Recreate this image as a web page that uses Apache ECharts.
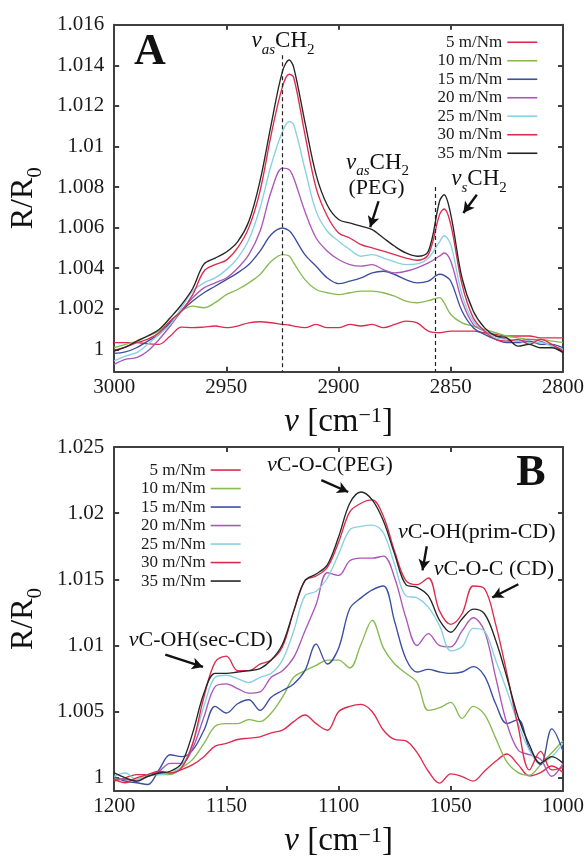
<!DOCTYPE html>
<html>
<head>
<meta charset="utf-8">
<script src="https://cdn.jsdelivr.net/npm/echarts@6/dist/echarts.min.js"></script>
<style>
html,body{margin:0;padding:0;background:#ffffff;}
#chart{width:588px;height:859px;}
</style>
</head>
<body>
<div id="chart"></div>
<script>
// ---------------- DATA ----------------
const seriesNames = ['5 m/Nm', '10 m/Nm', '15 m/Nm', '20 m/Nm', '25 m/Nm', '30 m/Nm', '35 m/Nm'];

// Panel A: CH2 stretching region (wavenumber, cm^-1)
const wavenumberA = [3000, 2995, 2990, 2985, 2980, 2975, 2970, 2965, 2960, 2955, 2950, 2945, 2940,
  2935, 2930, 2925, 2922, 2920, 2915, 2910, 2905, 2900,
  2895, 2890, 2885, 2880, 2875, 2870, 2865, 2860, 2855, 2853, 2850,
  2845, 2840, 2835, 2830, 2825, 2820, 2815, 2810, 2805, 2800];

const a5 = [1.00033, 1.00033, 1.00033, 1.00028, 1.00025, 1.00066, 1.0011, 1.00107, 1.0011, 1.00115, 1.00107, 1.00115, 1.00131,
  1.00136, 1.00131, 1.00123, 1.0012, 1.00115, 1.00107, 1.00123, 1.00107, 1.00107,
  1.00123, 1.00115, 1.00123, 1.00107, 1.00123, 1.00139, 1.00131, 1.0009, 1.00082, 1.00085, 1.0009,
  1.0009, 1.0009, 1.00082, 1.00074, 1.00066, 1.00066, 1.00066, 1.00057, 1.00057, 1.00057];
const a10 = [1.00008, 1.00025, 1.00041, 1.00066, 1.0009, 1.00139, 1.00189, 1.00213, 1.00205, 1.0023, 1.0027, 1.00295, 1.00328,
  1.00369, 1.00434, 1.00467, 1.0046, 1.00426, 1.00344, 1.00295, 1.00279, 1.0027,
  1.00279, 1.00287, 1.00287, 1.00279, 1.00262, 1.00238, 1.0023, 1.0024, 1.00255, 1.0023, 1.00172,
  1.00131, 1.00115, 1.00098, 1.00082, 1.00066, 1.00057, 1.00049, 1.00049, 1.00041, 1.00033];
const a15 = [0.9998, 0.99988, 1.00008, 1.00041, 1.00074, 1.00131, 1.00189, 1.00238, 1.00279, 1.00311, 1.00344, 1.00377, 1.00418,
  1.00484, 1.00566, 1.00598, 1.00585, 1.00557, 1.00467, 1.0041, 1.00352, 1.00324,
  1.00336, 1.00352, 1.00377, 1.00385, 1.00369, 1.00344, 1.00328, 1.00336, 1.0037, 1.00365, 1.00336,
  1.00189, 1.00107, 1.00074, 1.00049, 1.00033, 1.00033, 1.00041, 1.00025, 1.00025, 1.00008];
const a20 = [0.99926, 0.99951, 0.99959, 0.99992, 1.00049, 1.00115, 1.00189, 1.00254, 1.00303, 1.00328, 1.00352, 1.004, 1.00467,
  1.00582, 1.00779, 1.00893, 1.00885, 1.00844, 1.0068, 1.00549, 1.00484, 1.00443,
  1.00418, 1.0041, 1.00418, 1.00393, 1.00377, 1.00385, 1.00402, 1.00426, 1.0046, 1.00475, 1.00434,
  1.00238, 1.00123, 1.0009, 1.00066, 1.00049, 1.00041, 1.00049, 1.00041, 1.00016, 1.0];
const a25 = [0.99943, 0.99967, 0.99984, 1.00025, 1.00074, 1.00123, 1.00205, 1.00287, 1.00328, 1.00352, 1.00393, 1.0045, 1.0054,
  1.00697, 1.0091, 1.01074, 1.01123, 1.01107, 1.0089, 1.0068, 1.00582, 1.00533,
  1.00492, 1.00459, 1.00467, 1.0045, 1.00431, 1.00418, 1.00421, 1.0045, 1.0053, 1.0056, 1.00516,
  1.0027, 1.00139, 1.0009, 1.00057, 1.00049, 1.00041, 1.00033, 1.00033, 1.00016, 1.0];
const a30 = [0.99995, 1.00011, 1.00033, 1.0005, 1.00082, 1.0014, 1.0019, 1.0027, 1.00385, 1.00418, 1.0044, 1.005, 1.006,
  1.0078, 1.0106, 1.01295, 1.01356, 1.0134, 1.0106, 1.00795, 1.00656, 1.00574,
  1.00549, 1.00516, 1.005, 1.00484, 1.00467, 1.0045, 1.00439, 1.00467, 1.00664, 1.00692, 1.00615,
  1.0032, 1.00156, 1.0009, 1.00049, 1.00041, 1.00049, 1.00025, 1.00049, 1.00025, 0.99992];
const a35 = [0.99992, 1.00011, 1.0004, 1.00066, 1.00098, 1.00156, 1.0022, 1.003, 1.0042, 1.0045, 1.0048, 1.0053, 1.0063,
  1.0083, 1.0111, 1.0137, 1.01426, 1.0139, 1.0112, 1.0086, 1.0071, 1.0064,
  1.00623, 1.00607, 1.0059, 1.00549, 1.00508, 1.00475, 1.00459, 1.00484, 1.0073, 1.00762, 1.00664,
  1.00352, 1.00189, 1.00107, 1.00066, 1.00057, 1.00016, 1.00025, 1.00008, 1.00008, 0.99984];

// Panel B: C-O / C-OH stretching region
const wavenumberB = [1200, 1195, 1190, 1185, 1180, 1175, 1170, 1165, 1160, 1155,
  1150, 1145, 1140, 1135, 1130, 1125, 1120, 1115, 1110, 1105,
  1100, 1095, 1090, 1085, 1080, 1075, 1070, 1065, 1060, 1055,
  1050, 1045, 1040, 1035, 1030, 1025, 1020, 1015, 1010, 1005, 1000];

const b5 = [0.99975, 1.0, 1.00025, 1.00025, 1.00037, 1.00037, 1.00062, 1.001, 1.0016, 1.0024,
  1.0026, 1.0029, 1.003, 1.0031, 1.0034, 1.0036, 1.00425, 1.00475, 1.0041, 1.0036,
  1.005, 1.0054, 1.00555, 1.005, 1.0036, 1.0029, 1.0028, 1.0019, 1.0005, 0.9996,
  1.0003, 1.0001, 0.99975, 1.0005, 1.00125, 1.0018, 1.001, 1.00015, 1.0004, 1.0009, 1.0004];
const b10 = [1.0, 0.99988, 0.99988, 1.00012, 1.00025, 1.00025, 1.00075, 1.0014, 1.0026, 1.0039,
  1.0041, 1.0041, 1.0044, 1.00425, 1.0049, 1.0061, 1.0076, 1.0081, 1.0085, 1.0089,
  1.0089, 1.0083, 1.0101, 1.0119, 1.0098, 1.0086, 1.0079, 1.0072, 1.0051, 1.0053,
  1.0057, 1.0045, 1.0054, 1.0048, 1.003, 1.0012, 1.0004, 1.0002, 1.001, 1.0019, 1.0028];
const b15 = [1.00012, 0.99975, 0.99963, 0.9995, 1.00062, 1.00175, 1.0016, 1.0021, 1.0036, 1.0054,
  1.0049, 1.0056, 1.0059, 1.0051, 1.0061, 1.0066, 1.0071, 1.0081, 1.0101, 1.0086,
  1.0098, 1.0128, 1.0136, 1.0142, 1.0145, 1.0118, 1.009, 1.008, 1.0082, 1.008,
  1.0079, 1.008, 1.0084, 1.0077, 1.0056, 1.0041, 1.0044, 1.0022, 1.001, 1.0037, 1.002];
const b20 = [0.99988, 0.99988, 0.99975, 1.00012, 1.0005, 1.0011, 1.0011, 1.00225, 1.0046, 1.0069,
  1.0071, 1.00675, 1.0064, 1.0065, 1.0076, 1.0081, 1.0091, 1.0111, 1.0131, 1.0155,
  1.0153, 1.0164, 1.0166, 1.0166, 1.01675, 1.0151, 1.0121, 1.01, 1.0109, 1.01,
  1.0099, 1.0111, 1.0121, 1.0111, 1.0076, 1.0041, 1.0021, 1.00175, 1.0014, 1.00012, 1.0011];
const b25 = [1.00012, 1.00037, 0.99988, 1.00025, 1.00025, 1.00037, 1.00087, 1.0026, 1.0054, 1.0076,
  1.00775, 1.0075, 1.0072, 1.0076, 1.0079, 1.0089, 1.0111, 1.01375, 1.0141, 1.0151,
  1.0169, 1.01875, 1.019, 1.0191, 1.0185, 1.0161, 1.01375, 1.0136, 1.0129, 1.0115,
  1.0096, 1.0099, 1.0113, 1.0111, 1.0089, 1.0066, 1.0041, 1.0021, 1.0011, 1.0016, 1.0026];
const b30 = [0.99988, 0.99963, 1.0, 1.00025, 1.0005, 1.00037, 1.00075, 1.0026, 1.0061, 1.00875,
  1.0092, 1.0081, 1.0081, 1.0086, 1.0089, 1.0099, 1.0126, 1.0149, 1.01525, 1.0159,
  1.0178, 1.0201, 1.02075, 1.021, 1.01975, 1.0171, 1.0149, 1.0146, 1.0151, 1.0126,
  1.0116, 1.0124, 1.0145, 1.0143, 1.0116, 1.0079, 1.0039, 1.0006, 1.002, 1.0006, 1.0008];
const b35 = [1.00037, 1.0, 0.99975, 1.00012, 1.00037, 1.0005, 1.0011, 1.0034, 1.0064, 1.0079,
  1.0079, 1.008, 1.0081, 1.00825, 1.0089, 1.0101, 1.0126, 1.0149, 1.0154, 1.0161,
  1.0182, 1.02075, 1.0216, 1.021, 1.0194, 1.0169, 1.0146, 1.0144, 1.01375, 1.0119,
  1.011, 1.012, 1.01275, 1.0124, 1.0104, 1.0076, 1.0046, 1.0025, 1.0011, 1.0016, 1.0011];

// Axis tick values
const xTickStep = 50;
const yTicksA = [1, 1.002, 1.004, 1.006, 1.008, 1.01, 1.012, 1.014, 1.016];
const yTicksB = [1, 1.005, 1.01, 1.015, 1.02, 1.025];

// Annotation geometry (data coordinates)
const dashedLinesA = [[2925.2, 1.0145], [2856.9, 1.008]];
const arrowsA = [[[2882.2, 1.0073], [2885.9, 1.00602]], [[2838.4, 1.00762], [2844.4, 1.00672]]];
const arrowsB = [[[1177.2, 1.00932], [1160.4, 1.00838]], [[1107.7, 1.0225], [1095.7, 1.0216]],
  [[1060.7, 1.0175], [1062.6, 1.01568]], [[1019.9, 1.01463], [1031.5, 1.01363]]];

// ---------------- STYLE ----------------
const FONT = '"Liberation Serif", "Times New Roman", serif';
const colors = ['#de2a4c', '#86bb50', '#3c4ea2', '#ab57b7', '#88d0e2', '#de2a4c', '#262626'];
const frameColor = '#3f3f3f';

const chart = echarts.init(document.getElementById('chart'), null, {renderer: 'canvas'});

const seriesA = [a5, a10, a15, a20, a25, a30, a35];
const seriesB = [b5, b10, b15, b20, b25, b30, b35];

function makeSeries(xs, ys, idx, axisIndex) {
  return {
    type: 'line', name: seriesNames[idx],
    xAxisIndex: axisIndex, yAxisIndex: axisIndex,
    data: xs.map((x, i) => [x, ys[i]]),
    symbol: 'none', showSymbol: false, smooth: 0.35,
    lineStyle: {width: 1.35, color: colors[idx]},
    itemStyle: {color: colors[idx]},
    color: colors[idx],
    z: 2 + idx * 0.01,
    animation: false
  };
}

function yFmt(v) { return String(+Number(v).toFixed(3)); }
function xFmt(v) { return String(Math.round(v)); }

function xAxisPair(gridIndex, min, max) {
  const nameRich = {
    nu: {fontFamily: FONT, fontSize: 33, fontStyle: 'italic', lineHeight: 33, padding: [7, 0, 0, 0], verticalAlign: 'bottom', color: '#111'},
    n: {fontFamily: FONT, fontSize: 33, lineHeight: 33, padding: [7, 0, 0, 0], verticalAlign: 'bottom', color: '#111'},
    sup: {fontFamily: FONT, fontSize: 22, lineHeight: 22, verticalAlign: 'top', color: '#111'}
  };
  return [{
    type: 'value', gridIndex, min, max, interval: xTickStep, inverse: true, position: 'bottom',
    name: '{nu|ν}{n| [cm}{sup|−1}{n|]}', nameLocation: 'middle', nameGap: 20,
    nameTextStyle: {rich: nameRich},
    axisLine: {show: true, onZero: false, lineStyle: {color: frameColor, width: 2}},
    axisTick: {show: true, inside: true, length: 5, lineStyle: {color: frameColor, width: 2}},
    axisLabel: {fontFamily: FONT, fontSize: 21, color: '#1a1a1a', margin: 5, formatter: xFmt},
    splitLine: {show: false}
  }, {
    type: 'value', gridIndex, min, max, interval: xTickStep, inverse: true, position: 'top',
    axisLine: {show: true, onZero: false, lineStyle: {color: frameColor, width: 2}},
    axisTick: {show: true, inside: true, length: 5, lineStyle: {color: frameColor, width: 2}},
    axisLabel: {show: false}, splitLine: {show: false}
  }];
}

function yAxisPair(gridIndex, min, max, ticks) {
  const nameRich = {
    n: {fontFamily: FONT, fontSize: 32, lineHeight: 32, padding: [0, 0, 6, 0], verticalAlign: 'bottom', color: '#111'},
    sub: {fontFamily: FONT, fontSize: 21, lineHeight: 21, verticalAlign: 'bottom', color: '#111'}
  };
  return [{
    type: 'value', gridIndex, min, max, position: 'left',
    name: '{n|R/R}{sub|0}', nameLocation: 'middle', nameGap: 66, nameRotate: 90,
    nameTextStyle: {rich: nameRich},
    axisLine: {show: true, onZero: false, lineStyle: {color: frameColor, width: 2}},
    axisTick: {show: true, inside: true, length: 5, customValues: ticks, lineStyle: {color: frameColor, width: 2}},
    axisLabel: {fontFamily: FONT, fontSize: 21, color: '#1a1a1a', margin: 10, customValues: ticks, formatter: yFmt},
    splitLine: {show: false}
  }, {
    type: 'value', gridIndex, min, max, position: 'right',
    axisLine: {show: true, onZero: false, lineStyle: {color: frameColor, width: 2}},
    axisTick: {show: true, inside: true, length: 5, customValues: ticks, lineStyle: {color: frameColor, width: 2}},
    axisLabel: {show: false, customValues: ticks}, splitLine: {show: false}
  }];
}

function legendAt(right, top) {
  return {
    data: seriesNames, orient: 'vertical', right, top, align: 'right',
    icon: 'rect', itemWidth: 30, itemHeight: 1.6, itemGap: 0, padding: 0,
    selectedMode: false,
    textStyle: {fontFamily: FONT, fontSize: 17, color: '#1a1a1a', lineHeight: 18.5}
  };
}

function annotationSeries(axisIndex, segments, isArrow) {
  return {
    type: 'line', name: isArrow ? 'arrows' : 'guides', xAxisIndex: axisIndex, yAxisIndex: axisIndex,
    data: [], silent: true, animation: false, z: 5,
    markLine: {
      silent: true, animation: false,
      symbol: isArrow ? ['none', 'arrow'] : ['none', 'none'],
      symbolSize: isArrow ? [9, 11] : 0,
      label: {show: false},
      lineStyle: isArrow ? {color: '#111', width: 2.4, type: 'solid'} : {color: '#222', width: 1.2, type: [4, 3]},
      emphasis: {disabled: true},
      data: segments.map(s => [{coord: s[0]}, {coord: s[1]}])
    }
  };
}

const annRich = {
  nu: {fontFamily: FONT, fontSize: 23, fontStyle: 'italic', lineHeight: 23, padding: [0, 0, 5, 0], verticalAlign: 'bottom', fill: '#111'},
  n: {fontFamily: FONT, fontSize: 23, lineHeight: 23, padding: [0, 0, 5, 0], verticalAlign: 'bottom', fill: '#111'},
  sub: {fontFamily: FONT, fontSize: 15, fontStyle: 'italic', lineHeight: 15, verticalAlign: 'bottom', fill: '#111'},
  sub2: {fontFamily: FONT, fontSize: 15, lineHeight: 15, verticalAlign: 'bottom', fill: '#111'}
};
const plainRich = {
  nu: {fontFamily: FONT, fontSize: 22, fontStyle: 'italic', lineHeight: 22, fill: '#111'},
  n: {fontFamily: FONT, fontSize: 22, lineHeight: 22, fill: '#111'}
};

function txt(x, y, text, rich) {
  return {type: 'text', x, y, z: 10, silent: true,
    style: {text, rich, align: 'center', verticalAlign: 'middle', fill: '#111', font: '22px ' + FONT}};
}

const yMinA = 0.9989, yMaxA = 1.016;
const yMinB = 0.999, yMaxB = 1.025;

const option = {
  animation: false,
  backgroundColor: '#ffffff',
  textStyle: {fontFamily: FONT},
  grid: [
    {left: 113.7, top: 24.7, width: 449.3, height: 347, containLabel: false},
    {left: 113.7, top: 447, width: 449.3, height: 346.3, containLabel: false}
  ],
  xAxis: [...xAxisPair(0, 2800, 3000), ...xAxisPair(1, 1000, 1200)],
  yAxis: [...yAxisPair(0, yMinA, yMaxA, yTicksA), ...yAxisPair(1, yMinB, yMaxB, yTicksB)],
  legend: [legendAt(50.7, 33), legendAt(347.3, 460.8)],
  series: [
    ...seriesA.map((ys, i) => makeSeries(wavenumberA, ys, i, 0)),
    ...seriesB.map((ys, i) => makeSeries(wavenumberB, ys, i, 2)),
    annotationSeries(0, dashedLinesA.map(d => [[d[0], d[1]], [d[0], yMinA]]), false),
    annotationSeries(0, arrowsA, true),
    annotationSeries(2, arrowsB, true)
  ],
  graphic: [
    {type: 'text', x: 150, y: 53, z: 10, silent: true, style: {text: 'A', font: 'bold 44px ' + FONT, fill: '#111', align: 'center', verticalAlign: 'middle'}},
    {type: 'text', x: 531, y: 474, z: 10, silent: true, style: {text: 'B', font: 'bold 44px ' + FONT, fill: '#111', align: 'center', verticalAlign: 'middle'}},
    txt(283, 46, '{nu|ν}{sub|as}{n|CH}{sub2|2}', annRich),
    txt(377.5, 167.5, '{nu|ν}{sub|as}{n|CH}{sub2|2}', annRich),
    txt(376.5, 188, '{n|(PEG)}', plainRich),
    txt(479, 184, '{nu|ν}{sub|s}{n|CH}{sub2|2}', annRich),
    txt(330, 465.5, '{nu|ν}{n|C-O-C(PEG)}', plainRich),
    txt(476.7, 532.5, '{nu|ν}{n|C-OH(prim-CD)}', plainRich),
    txt(494, 569, '{nu|ν}{n|C-O-C (CD)}', plainRich),
    txt(200.8, 640.5, '{nu|ν}{n|C-OH(sec-CD)}', plainRich)
  ]
};

chart.setOption(option);
</script>
</body>
</html>
